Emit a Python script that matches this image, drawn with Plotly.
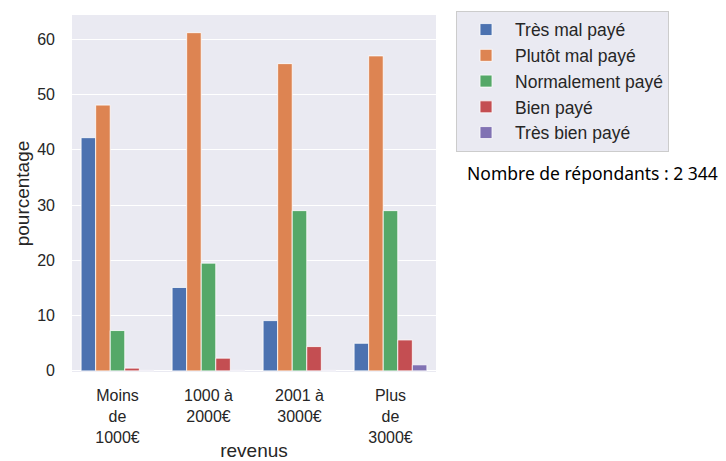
import plotly.graph_objects as go

# revenus (catégories) et pourcentages par appréciation du salaire
revenus = ["Moins<br>de<br>1000€", "1000 à<br>2000€", "2001 à<br>3000€", "Plus<br>de<br>3000€"]
tres_mal_paye = [42.2, 15.1, 9.1, 5.0]
plutot_mal_paye = [48.1, 61.2, 55.6, 57.0]
normalement_paye = [7.3, 19.5, 29.0, 29.0]
bien_paye = [0.5, 2.3, 4.4, 5.6]
tres_bien_paye = [0.1, 0.1, 0.1, 1.1]

series = [
    ("Très mal payé", tres_mal_paye, "#4c72b0"),
    ("Plutôt mal payé", plutot_mal_paye, "#dd8452"),
    ("Normalement payé", normalement_paye, "#55a868"),
    ("Bien payé", bien_paye, "#c44e52"),
    ("Très bien payé", tres_bien_paye, "#8172b3"),
]

fig = go.Figure()
for name, vals, col in series:
    fig.add_trace(go.Bar(x=revenus, y=vals, name=name,
                         marker=dict(color=col, line=dict(color="white", width=0.8))))

fig.update_layout(
    width=726, height=461,
    margin=dict(l=72, r=290, t=15, b=89, autoexpand=False),
    barmode="group", bargap=0.2, bargroupgap=0,
    plot_bgcolor="#eaeaf2", paper_bgcolor="white",
    font=dict(family="Liberation Sans, Arial, sans-serif", size=16, color="#262626"),
    legend=dict(x=1.055, y=1.012, xanchor="left", yanchor="top",
                bgcolor="#eaeaf2", bordercolor="#cccccc", borderwidth=1,
                font=dict(size=17.5), tracegroupgap=0, itemwidth=48),
    showlegend=True,
)
fig.update_xaxes(title=dict(text="revenus", standoff=12), showgrid=False,
                 ticks="", ticklabelstandoff=12, zeroline=False)
fig.update_yaxes(title=dict(text="pourcentage", standoff=2), range=[-0.2, 64.4],
                 tickvals=[0, 10, 20, 30, 40, 50, 60], showgrid=True,
                 gridcolor="white", gridwidth=1.3, zeroline=False, ticks="",
                 ticklabelstandoff=16)
fig.add_annotation(text="Nombre de répondants : 2 344", xref="paper", yref="paper",
                   x=1.08, y=0.557, xanchor="left", yanchor="middle", showarrow=False,
                   font=dict(family="Noto Sans, sans-serif", size=17.5, color="black"))

# pas de marge autour de la page, pas de barre d'outils
fig.write_html("out.html", config={"displayModeBar": False},
               post_script="document.body.style.margin='0';")
